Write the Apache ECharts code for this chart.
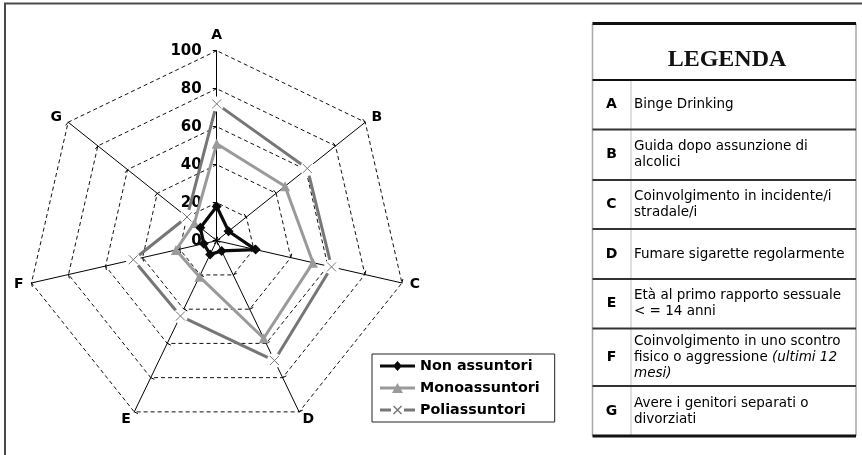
<!DOCTYPE html>
<html><head><meta charset="utf-8">
<script src="https://cdn.jsdelivr.net/npm/echarts@6/dist/echarts.min.js"></script>
<style>html,body{margin:0;padding:0;background:#fff}#c{width:862px;height:455px}</style>
</head><body><div id="c"></div>
<script>
// ---- data ----
const categories = ['A', 'B', 'C', 'D', 'E', 'F', 'G'];
const seriesNames = ['Non assuntori', 'Monoassuntori', 'Poliassuntori'];
const nonAssuntori = [18, 8, 21, 6, 8, 7, 11];
const monoassuntori = [51, 46, 52, 57, 21, 22, 15];
const poliassuntori = [72, 61, 62, 70, 44, 45, 20];
const axisMin = 0;
const axisMax = 100;
const tableTitle = 'LEGENDA';
const tableLetters = ['A', 'B', 'C', 'D', 'E', 'F', 'G'];
const tableDescriptions = [
  'Binge Drinking',
  'Guida dopo assunzione di\nalcolici',
  'Coinvolgimento in incidente/i\nstradale/i',
  'Fumare sigarette regolarmente',
  'Età al primo rapporto sessuale\n< = 14 anni',
  'Coinvolgimento in uno scontro\nfisico o aggressione {it|(ultimi 12}\n{it|mesi)}',
  'Avere i genitori separati o\ndivorziati'
];

// ---- layout / style ----
const FONT = 'DejaVu Sans';
const colNon = '#0a0a0a', colMono = '#9a9a9a', colPoli = '#767676';
// clockwise order starting from A at top
const order = [0, 6, 5, 4, 3, 2, 1];
const reorder = arr => order.map(i => arr[i]);

const indicator = order.map((i, k) => {
  const ind = { name: categories[i], min: axisMin, max: axisMax };
  if (k === 0) ind.axisLabel = { show: true };
  return ind;
});

const iconNon = 'path://M0,3.5H35V6.5H0Z M17.5,0L22,5L17.5,10L13,5Z';
const iconMono = 'path://M0,3.5H35V6.5H0Z M17.5,0L23,10L12,10Z';
const iconPoli = 'path://M0,3.5H11V6.5H0Z M24,3.5H35V6.5H24Z M13,1.5L14,0.5L22,8.5L21,9.5Z M21,0.5L22,1.5L14,9.5L13,8.5Z';

// table geometry
const T = { left: 592.5, right: 856, top: 23.5, head: 80, div: 631,
  rows: [80, 129.5, 180, 229, 279, 328.5, 386, 436] };
const graphic = [];
// outer frame (left + top)
graphic.push({ type: 'polyline', shape: { points: [[5, 455], [5, 3.5], [862, 3.5]] },
  style: { stroke: '#4a4a4a', lineWidth: 2, fill: null } });
// table borders
graphic.push({ type: 'line', shape: { x1: T.left, y1: T.top, x2: T.left, y2: T.rows[7] }, style: { stroke: '#a8a8a8', lineWidth: 1.5 } });
graphic.push({ type: 'line', shape: { x1: T.right, y1: T.top, x2: T.right, y2: T.rows[7] }, style: { stroke: '#a8a8a8', lineWidth: 1.5 } });
graphic.push({ type: 'line', shape: { x1: T.div, y1: T.head, x2: T.div, y2: T.rows[7] }, style: { stroke: '#c0c0c0', lineWidth: 1 } });
graphic.push({ type: 'line', shape: { x1: T.left, y1: T.top, x2: T.right, y2: T.top }, style: { stroke: '#111', lineWidth: 3 } });
T.rows.forEach((y, i) => {
  const w = (i === T.rows.length - 1) ? 3 : 2;
  graphic.push({ type: 'line', shape: { x1: T.left, y1: y, x2: T.right, y2: y }, style: { stroke: i === 0 || i === 7 ? '#111' : '#333', lineWidth: w } });
});
graphic.push({ type: 'text', x: 727, y: 60, style: { text: tableTitle, font: 'bold 24px "Liberation Serif"', fill: '#111', align: 'center', verticalAlign: 'middle' } });
tableLetters.forEach((L, i) => {
  const cy = (T.rows[i] + T.rows[i + 1]) / 2;
  graphic.push({ type: 'text', x: 611.5, y: cy, style: { text: L, font: 'bold 14px "' + FONT + '"', fill: '#000', align: 'center', verticalAlign: 'middle' } });
  graphic.push({ type: 'text', x: 634, y: cy, style: {
    text: tableDescriptions[i], fontFamily: FONT, fontSize: 13.5, fill: '#000', lineHeight: 16,
    align: 'left', verticalAlign: 'middle',
    rich: { it: { fontStyle: 'italic', fontFamily: FONT, fontSize: 13.5, fill: '#000', lineHeight: 16 } } } });
});

const chart = echarts.init(document.getElementById('c'), null, { renderer: 'canvas' });
chart.setOption({
  animation: false,
  backgroundColor: '#fff',
  graphic: graphic,
  legend: {
    orient: 'vertical', left: 372, top: 354,
    padding: [5, 15, 5, 8], itemGap: 8, itemWidth: 35, itemHeight: 10,
    borderColor: '#222', borderWidth: 1, selectedMode: false,
    textStyle: { fontFamily: FONT, fontSize: 14.3, fontWeight: 'bold', color: '#000' },
    data: [
      { name: seriesNames[0], icon: iconNon, itemStyle: { color: colNon, borderWidth: 0 } },
      { name: seriesNames[1], icon: iconMono, itemStyle: { color: colMono, borderWidth: 0 } },
      { name: seriesNames[2], icon: iconPoli, itemStyle: { color: colPoli, borderWidth: 0 } }
    ]
  },
  radar: {
    center: [216.7, 240.7], radius: 190, startAngle: 90, splitNumber: 5, shape: 'polygon',
    indicator: indicator,
    nameGap: 8,
    axisName: { color: '#000', fontSize: 14, fontWeight: 'bold', fontFamily: FONT },
    axisLine: { lineStyle: { color: '#000', width: 1 } },
    axisTick: { show: true, length: 4, lineStyle: { color: '#000', width: 1 } },
    axisLabel: { show: false, color: '#000', fontSize: 15, fontWeight: 'bold', fontFamily: FONT, margin: 15 },
    splitLine: { lineStyle: { color: '#111', type: [4, 3], width: 1 } },
    splitArea: { show: false }
  },
  series: [{
    type: 'radar', silent: true,
    data: [
      { name: seriesNames[2], value: reorder(poliassuntori), symbol: 'circle', symbolSize: 15,
        itemStyle: { color: '#fff', borderWidth: 0 }, lineStyle: { color: colPoli, width: 3 } },
      { name: seriesNames[1], value: reorder(monoassuntori), symbol: 'triangle', symbolSize: 10,
        itemStyle: { color: colMono, borderWidth: 0 }, lineStyle: { color: colMono, width: 3 } },
      { name: seriesNames[0], value: reorder(nonAssuntori), symbol: 'diamond', symbolSize: 10,
        itemStyle: { color: colNon, borderWidth: 0 }, lineStyle: { color: colNon, width: 3.2 } },
      { name: seriesNames[2], value: reorder(poliassuntori), symbol: 'path://M0,0L10,10M10,0L0,10', symbolSize: 9,
        itemStyle: { color: 'none', borderColor: colPoli, borderWidth: 1 }, lineStyle: { width: 0, opacity: 0 } }
    ]
  }]
});
</script>
</body></html>
